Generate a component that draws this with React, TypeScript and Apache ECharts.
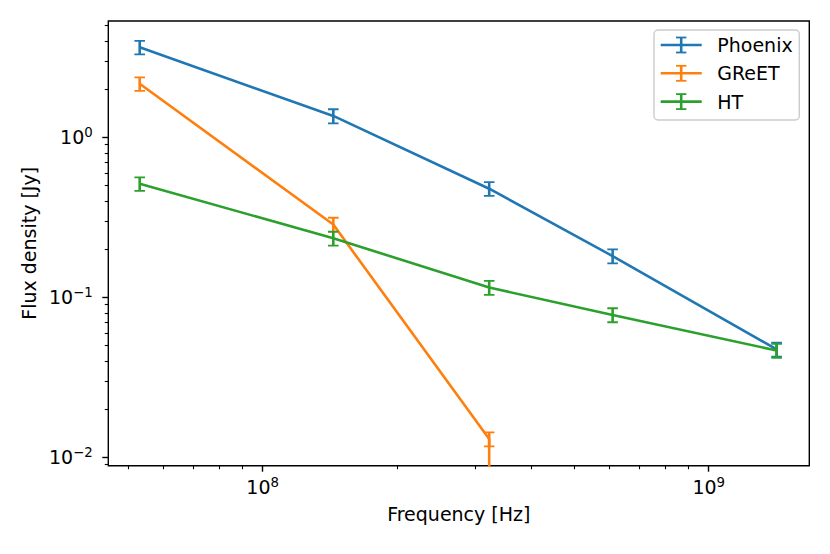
import React, { useEffect, useRef } from "react";
import * as echarts from "echarts";

// ---- data ----
const freqs = [5.3e7, 1.44e8, 3.22e8, 6.09e8, 1.42e9];
const seriesNames = ["Phoenix", "GReET", "HT"];
const colors = ["#1f77b4", "#ff7f0e", "#2ca02c"];
const phoenixVals = [3.65, 1.36, 0.477, 0.181, 0.0473];
const phoenixErr = [0.35, 0.137, 0.047, 0.018, 0.0047];
const greetVals = [2.16, 0.285, 0.013];
const greetErr = [0.21, 0.029, 0.0013];
// the GReET trace drops straight down, off the bottom of the axes, at 322 MHz
const greetTail = [[3.22e8, 0.002]];
const htVals = [0.512, 0.234, 0.115, 0.0776, 0.0465];
const htErr = [0.05, 0.0235, 0.0115, 0.0078, 0.0046];

const xMajor = [1e8, 1e9];
const xMinor = [5e7, 6e7, 7e7, 8e7, 9e7, 2e8, 3e8, 4e8, 5e8, 6e8, 7e8, 8e8, 9e8];
const yMajor = [0.01, 0.1, 1];
const yMinor = [0.009, 0.02, 0.03, 0.04, 0.05, 0.06, 0.07, 0.08, 0.09, 0.2, 0.3, 0.4, 0.5, 0.6, 0.7, 0.8, 0.9, 2, 3, 4, 5];
const xRange = [4.507e7, 1.681e9];
const yRange = [0.00886, 5.33];
const xTitle = "Frequency [Hz]";
const yTitle = "Flux density [Jy]";

const FONT = "DejaVu Sans";
const FS = 19;

function powLabel(v: number) {
  const e = Math.round(Math.log10(v));
  const s = String(e).replace("-", "\u2212");
  return `{b|10}{s|${s}}`;
}
const richLab = {
  b: { fontSize: FS, fontFamily: FONT, color: "#000", lineHeight: 22 },
  s: { fontSize: 13.3, fontFamily: FONT, color: "#000", lineHeight: 13, verticalAlign: "top" },
};

export default function App() {
  const ref = useRef<HTMLDivElement>(null);
  useEffect(() => {
    if (!ref.current) return;
    const chart = echarts.init(ref.current, undefined, { renderer: "svg" });

    const lineData = [
      phoenixVals.map((v, i) => [freqs[i], v]),
      greetVals.map((v, i) => [freqs[i], v]).concat(greetTail),
      htVals.map((v, i) => [freqs[i], v]),
    ];
    const errData = [
      phoenixVals.map((v, i) => [freqs[i], v - phoenixErr[i], v + phoenixErr[i]]),
      greetVals.map((v, i) => [freqs[i], v - greetErr[i], v + greetErr[i]]),
      htVals.map((v, i) => [freqs[i], v - htErr[i], v + htErr[i]]),
    ];

    const series: any[] = [];
    seriesNames.forEach((name, k) => {
      series.push({
        type: "line",
        name,
        data: lineData[k],
        showSymbol: false,
        symbol: "none",
        lineStyle: { color: colors[k], width: 2.6 },
        z: 2 + k * 0.1,
        clip: true,
        xAxisIndex: 0,
        yAxisIndex: 0,
      });
      const color = colors[k];
      series.push({
        type: "custom",
        name: name + "_err",
        data: errData[k],
        encode: { x: 0, y: [1, 2] },
        z: 2 + k * 0.1 + 0.05,
        clip: true,
        xAxisIndex: 0,
        yAxisIndex: 0,
        renderItem: (params: any, api: any) => {
          const x = api.value(0);
          const lo = api.value(1);
          const hi = api.value(2);
          const p1 = api.coord([x, hi]);
          const p2 = api.coord([x, lo]);
          const cw = 5.3;
          return {
            type: "group",
            children: [
              { type: "line", shape: { x1: p1[0], y1: p1[1], x2: p2[0], y2: p2[1] }, style: { stroke: color, lineWidth: 2.6 } },
              { type: "line", shape: { x1: p1[0] - cw, y1: p1[1], x2: p1[0] + cw, y2: p1[1] }, style: { stroke: color, lineWidth: 1.8 } },
              { type: "line", shape: { x1: p2[0] - cw, y1: p2[1], x2: p2[0] + cw, y2: p2[1] }, style: { stroke: color, lineWidth: 1.8 } },
            ],
          };
        },
      });
    });

    // legend drawn as graphic (errorbar handles)
    const lgX = 654, lgY = 30, lgW = 145.3, lgH = 90;
    const rowY = [45, 73.3, 101.6];
    const legendChildren: any[] = [
      {
        type: "rect",
        shape: { x: lgX, y: lgY, width: lgW, height: lgH, r: 4 },
        style: { fill: "rgba(255,255,255,0.8)", stroke: "#cccccc", lineWidth: 1.4 },
      },
    ];
    seriesNames.forEach((name, k) => {
      const y = rowY[k];
      const c = colors[k];
      legendChildren.push(
        { type: "line", shape: { x1: 660.7, y1: y, x2: 701.7, y2: y }, style: { stroke: c, lineWidth: 2.6 } },
        { type: "line", shape: { x1: 681.2, y1: y - 7.5, x2: 681.2, y2: y + 7.5 }, style: { stroke: c, lineWidth: 2.6 } },
        { type: "line", shape: { x1: 676, y1: y - 7.5, x2: 686.4, y2: y - 7.5 }, style: { stroke: c, lineWidth: 1.8 } },
        { type: "line", shape: { x1: 676, y1: y + 7.5, x2: 686.4, y2: y + 7.5 }, style: { stroke: c, lineWidth: 1.8 } },
        {
          type: "text",
          x: 717.3,
          y,
          style: { text: name, fill: "#000", font: `${FS}px "${FONT}"`, textVerticalAlign: "middle", textAlign: "left" },
        }
      );
    });

    const baseAxis = {
      type: "log",
      logBase: 10,
      gridIndex: 0,
      splitLine: { show: false },
      axisLine: { show: false },
    };

    chart.setOption({
      animation: false,
      backgroundColor: "#ffffff",
      grid: {
        left: 108.3,
        right: 20.7,
        top: 21,
        bottom: 88.3,
        show: true,
        borderColor: "#000",
        borderWidth: 1.4,
        backgroundColor: "transparent",
        containLabel: false,
        outerBoundsMode: "none",
      },
      xAxis: [
        {
          ...baseAxis,
          position: "bottom",
          min: xRange[0],
          max: xRange[1],
          axisTick: { show: true, length: 6, lineStyle: { color: "#000", width: 1.4 }, customValues: xMajor },
          axisLabel: {
            show: true,
            margin: 10,
            customValues: xMajor,
            formatter: (v: number) => powLabel(v),
            rich: richLab,
          },
          name: xTitle,
          nameLocation: "middle",
          nameGap: 39,
          nameTextStyle: { fontFamily: FONT, fontSize: FS, color: "#000" },
        },
        {
          ...baseAxis,
          position: "bottom",
          min: xRange[0],
          max: xRange[1],
          axisTick: { show: true, length: 3.5, lineStyle: { color: "#000", width: 1.1 }, customValues: xMinor },
          axisLabel: { show: false },
        },
      ],
      yAxis: [
        {
          ...baseAxis,
          position: "left",
          min: yRange[0],
          max: yRange[1],
          axisTick: { show: true, length: 6, lineStyle: { color: "#000", width: 1.4 }, customValues: yMajor },
          axisLabel: {
            show: true,
            margin: 15.6,
            customValues: yMajor,
            formatter: (v: number) => powLabel(v),
            rich: richLab,
          },
          name: yTitle,
          nameLocation: "middle",
          nameRotate: 90,
          nameGap: 67,
          nameTextStyle: { fontFamily: FONT, fontSize: FS, color: "#000" },
        },
        {
          ...baseAxis,
          position: "left",
          min: yRange[0],
          max: yRange[1],
          axisTick: { show: true, length: 3.5, lineStyle: { color: "#000", width: 1.1 }, customValues: yMinor },
          axisLabel: { show: false },
        },
      ],
      series,
      graphic: [{ type: "group", children: legendChildren, z: 100 }],
    });

    return () => chart.dispose();
  }, []);

  return (
    <div
      ref={ref}
      style={{ position: "fixed", left: 0, top: 0, width: 830, height: 554, background: "#fff" }}
    />
  );
}
